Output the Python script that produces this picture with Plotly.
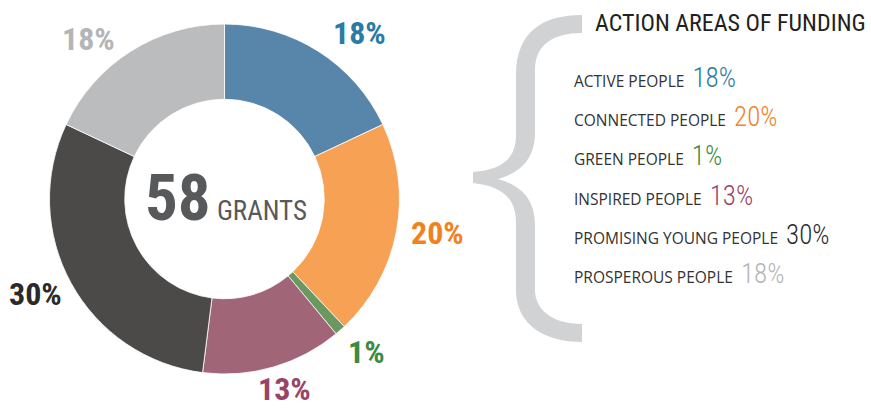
import math
import plotly.graph_objects as go

# ---- data ----
areas = ["ACTIVE PEOPLE", "CONNECTED PEOPLE", "GREEN PEOPLE", "INSPIRED PEOPLE",
         "PROMISING YOUNG PEOPLE", "PROSPEROUS PEOPLE"]
shares = [18, 20, 1, 13, 30, 18]
slice_colors = ["#5886AA", "#F7A155", "#6A9860", "#A06576", "#4B4A48", "#BBBCBE"]
text_colors = ["#2B7BA2", "#F0821E", "#3B8B40", "#9A4465", "#2A2A2A", "#B4B5B8"]
total_grants = 58
center_word = "GRANTS"
title_text = "ACTION AREAS OF FUNDING"

# ---- layout constants ----
W, H = 871, 408
CX, CY, R = 224.5, 199.0, 175.0
LABEL_R = 210.0
# small hand nudges (px) applied to each outside label, as in the original artwork
label_nudge = [(22, 11), (7, -5), (3, -5), (1, -12), (-5, -6), (-23, 17)]

COND = "'Roboto Condensed', 'Open Sans Condensed', sans-serif"
BODY = "'Open Sans', 'Noto Sans', sans-serif"


def px(x):
    return x / W


def py(y):
    return 1 - y / H


fig = go.Figure()
fig.add_trace(go.Pie(
    labels=areas,
    values=shares,
    sort=False,
    direction="clockwise",
    rotation=0,
    hole=0.57,
    textinfo="none",
    hoverinfo="label+percent",
    marker=dict(colors=slice_colors, line=dict(color="white", width=0.8)),
    domain=dict(x=[px(CX - R), px(CX + R)], y=[py(CY + R), py(CY - R)]),
    showlegend=False,
))

annotations = []
# outside percentage labels, placed at the slice mid-angle
tot = sum(shares)
cum = 0
for v, c, (ndx, ndy) in zip(shares, text_colors, label_nudge):
    mid = (cum + v / 2) / tot * 2 * math.pi
    cum += v
    x = CX + LABEL_R * math.sin(mid) + ndx
    y = CY - LABEL_R * math.cos(mid) + ndy
    annotations.append(dict(
        x=px(x), y=py(y), xref="paper", yref="paper", showarrow=False,
        text=f"{v}%", font=dict(family=COND, size=32, color=c, weight=700),
        xanchor="center", yanchor="middle", borderpad=0,
    ))

# centre text
annotations.append(dict(
    x=px(CX + 1), y=py(CY - 1), xref="paper", yref="paper", showarrow=False,
    text=f"<b>{total_grants}</b><span style='font-size:27px'> {center_word}</span>",
    font=dict(family=COND, size=65, color="#58595B"),
    xanchor="center", yanchor="middle",
))

# title
annotations.append(dict(
    x=px(868), y=py(23), xref="paper", yref="paper", showarrow=False,
    text=title_text, font=dict(family=COND, size=24, color="#231F20"),
    xanchor="right", yanchor="middle",
))

# legend rows
row0, step = 78, 39.2
cond_css = COND.replace("'", "")
for i, (a, v, c) in enumerate(zip(areas, shares, text_colors)):
    annotations.append(dict(
        x=px(572), y=py(row0 + i * step), xref="paper", yref="paper", showarrow=False,
        text=(f"{a}  <span style=\"font-family:{cond_css};font-weight:300;"
              f"font-size:27px;color:{c}\">{v}%</span>"),
        font=dict(family=BODY, size=15.5, color="#333333"),
        xanchor="left", yanchor="middle",
    ))


# decorative curly brace
def P(x, y):
    return f"{px(x):.5f},{py(y):.5f}"


brace = (
    f"M {P(582,15)} "
    f"C {P(545,15)} {P(516,30)} {P(516,75)} "
    f"L {P(516,135)} "
    f"C {P(516,160)} {P(500,170)} {P(473,172)} "
    f"L {P(473,183)} "
    f"C {P(500,186)} {P(516,197)} {P(516,222)} "
    f"L {P(516,290)} "
    f"C {P(516,325)} {P(545,342)} {P(582,342)} "
    f"L {P(582,324)} "
    f"C {P(553,324)} {P(535,310)} {P(535,290)} "
    f"L {P(535,225)} "
    f"C {P(535,200)} {P(522,186)} {P(498,179)} "
    f"C {P(522,172)} {P(535,158)} {P(535,132)} "
    f"L {P(535,70)} "
    f"C {P(535,45)} {P(553,33)} {P(582,33)} Z"
)

fig.update_layout(
    width=W, height=H,
    margin=dict(l=0, r=0, t=0, b=0),
    paper_bgcolor="white", plot_bgcolor="white",
    annotations=annotations,
    shapes=[dict(type="path", path=brace, xref="paper", yref="paper",
                 fillcolor="#D1D2D4", line=dict(width=0), layer="below")],
)

fig.write_html("out.html", post_script="document.body.style.margin='0';",
               config={"displayModeBar": False})
